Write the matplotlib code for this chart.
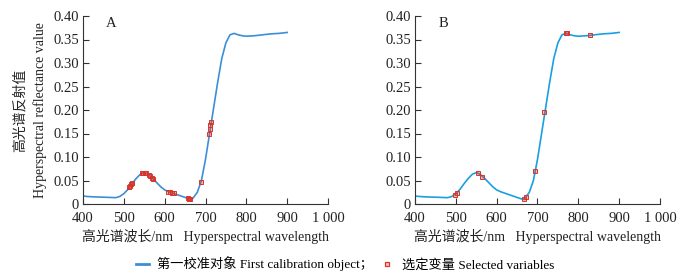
import matplotlib
matplotlib.use("Agg")
import matplotlib.pyplot as plt
from matplotlib.lines import Line2D

plt.rcParams['font.family'] = ['Liberation Serif', 'Noto Sans CJK SC']
plt.rcParams['font.size'] = 10

# Spectral curve (wavelength nm, reflectance)
wavelength = [400, 410, 420, 430, 440, 450, 460, 470, 480, 490, 500, 510, 520, 530, 540,
              550, 560, 570, 580, 590, 600, 610, 620, 630, 640, 650, 660, 665, 670, 680,
              690, 700, 710, 720, 730, 740, 750, 760, 770, 780, 790, 800, 820, 840, 860,
              880, 900]
reflectance = [0.017, 0.016, 0.0155, 0.015, 0.0148, 0.0145, 0.0142, 0.0138, 0.0135, 0.016,
               0.022, 0.031, 0.043, 0.054, 0.063, 0.067, 0.063, 0.055, 0.046, 0.037,
               0.030, 0.026, 0.023, 0.020, 0.017, 0.014, 0.011, 0.010, 0.013, 0.025,
               0.050, 0.095, 0.150, 0.205, 0.260, 0.310, 0.343, 0.360, 0.363, 0.360,
               0.358, 0.357, 0.358, 0.360, 0.362, 0.363, 0.365]

# Selected variables, panel A
sel_a_wl = [512, 515, 518, 520, 545, 548, 552, 555, 562, 565, 568, 572,
            607, 612, 617, 622, 656, 660, 663, 688, 708, 710, 712, 713]
sel_a_r = [0.036, 0.039, 0.043, 0.044, 0.066, 0.067, 0.067, 0.067, 0.061, 0.059, 0.056, 0.054,
           0.026, 0.025, 0.024, 0.023, 0.012, 0.011, 0.011, 0.047, 0.148, 0.160, 0.168, 0.175]

# Selected variables, panel B
sel_b_wl = [497, 502, 555, 565, 668, 672, 695, 717, 770, 773, 828]
sel_b_r = [0.020, 0.024, 0.066, 0.058, 0.011, 0.014, 0.071, 0.195, 0.363, 0.363, 0.360]

panel_labels = ['A', 'B']
xticks = [400, 500, 600, 700, 800, 900, 1000]
xticklabels = ['400', '500', '600', '700', '800', '900', '1 000']
yticks = [0, 0.05, 0.10, 0.15, 0.20, 0.25, 0.30, 0.35, 0.40]
yticklabels = ['0', '0.05', '0.10', '0.15', '0.20', '0.25', '0.30', '0.35', '0.40']

W, H = 683, 276
fig = plt.figure(figsize=(W / 100, H / 100), dpi=100)

line_colors = ['#3b8fd8', '#1aa0e0']
sels = [(sel_a_wl, sel_a_r), (sel_b_wl, sel_b_r)]
lefts = [83, 415]
for i in range(2):
    ax = fig.add_axes([lefts[i] / W, (H - 204) / H, 245 / W, 188 / H])
    ax.plot(wavelength, reflectance, color=line_colors[i], lw=1.2, zorder=2)
    ax.plot(sels[i][0], sels[i][1], ls='none', marker='s', markersize=3.3,
            markerfacecolor=(0.9, 0.2, 0.15, 0.35), markeredgecolor='#d8342a',
            markeredgewidth=0.7, zorder=3)
    ax.set_xlim(400, 1000)
    ax.set_ylim(0, 0.40)
    ax.set_xticks(xticks)
    ax.set_xticklabels(xticklabels)
    ax.set_yticks(yticks)
    ax.set_yticklabels(yticklabels)
    ax.spines['top'].set_visible(False)
    ax.spines['right'].set_visible(False)
    for s in ['left', 'bottom']:
        ax.spines[s].set_color('#333333')
        ax.spines[s].set_linewidth(0.8)
    ax.tick_params(direction='in', length=4, width=0.8, color='#333333',
                   labelsize=10.5, labelcolor='#222222')
    ax.tick_params(axis='x', pad=6)
    ax.tick_params(axis='y', pad=3)
    ax.text(470, 0.385, panel_labels[i], fontsize=10.5, ha='center', va='center',
            color='#222222')
    fig.text((lefts[i] + 122) / W, 1 - 237 / H,
             '高光谱波长/nm   Hyperspectral wavelength',
             ha='center', va='center', fontsize=10, color='#222222')

fig.text(20 / W, 1 - 110 / H, '高光谱反射值', rotation=90, ha='center', va='center',
         fontsize=10, color='#222222')
fig.text(40 / W, 1 - 110 / H, 'Hyperspectral reflectance value', rotation=90,
         ha='center', va='center', fontsize=10, color='#222222')

handles = [Line2D([], [], color=line_colors[0], lw=2),
           Line2D([], [], ls='none', marker='s', markersize=3.5,
                  markerfacecolor=(0.9, 0.2, 0.15, 0.25), markeredgecolor='#d8342a',
                  markeredgewidth=0.9)]
labels = ['第一校准对象 First calibration object；', '选定变量 Selected variables']
fig.legend(handles, labels, loc='center', bbox_to_anchor=(345 / W, 1 - 264 / H),
           ncol=2, frameon=False, fontsize=9.5, handlelength=1.0, handletextpad=0.6,
           columnspacing=0.6)

fig.savefig('out.png', dpi=100)
